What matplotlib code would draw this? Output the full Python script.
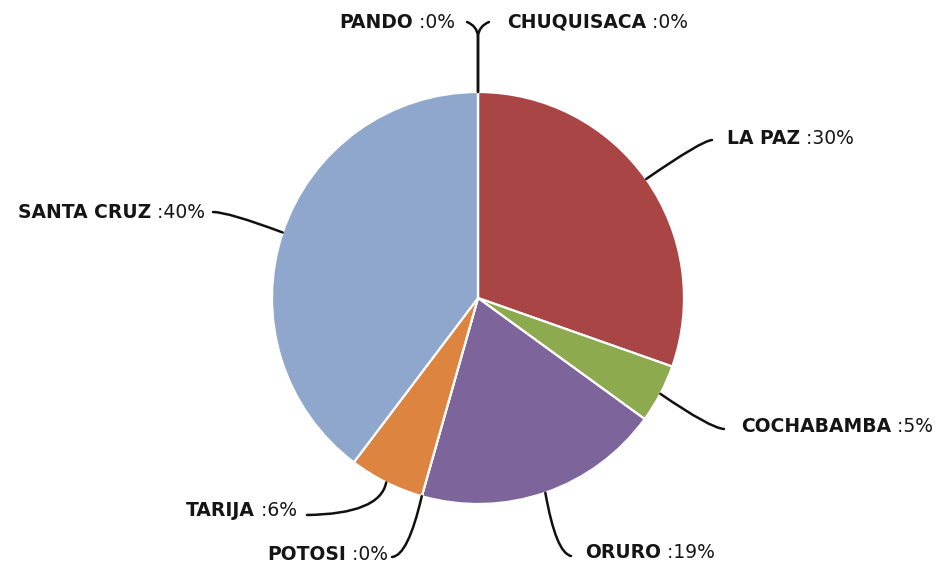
import numpy as np
import matplotlib
matplotlib.use("Agg")
import matplotlib.pyplot as plt
from matplotlib.path import Path
from matplotlib.patches import PathPatch
from matplotlib.offsetbox import TextArea, HPacker, AnnotationBbox

# ---- data ----
departments = ["CHUQUISACA", "LA PAZ", "COCHABAMBA", "ORURO", "POTOSI", "TARIJA", "SANTA CRUZ", "PANDO"]
shares = [0.0, 30.4, 4.6, 19.4, 0.0, 5.9, 39.7, 0.0]
colors = ["#4F81BD", "#A94544", "#8DAA4E", "#7D659B", "#4BACC6", "#DD8440", "#8FA7CD", "#C0504D"]

# ---- layout (pixel coords, y from top) ----
W, H = 938, 567
CX, CY, R = 478, 298, 206
# label: (text x, text y, align side, ctrl x, y, line end x, y)
label_layout = {
    "CHUQUISACA": (507, 22, "left", 479, 26, 489, 22),
    "LA PAZ": (727, 139, "left", 701, 141, 712, 140),
    "COCHABAMBA": (933, 427, "right", 710, 428, 724, 429),
    "ORURO": (585, 552, "left", 556, 553, 571, 556),
    "POTOSI": (388, 555, "right", 408, 556, 392, 557),
    "TARIJA": (297, 511, "right", 380, 514, 307, 515),
    "SANTA CRUZ": (205, 212, "right", 228, 212, 213, 212),
    "PANDO": (455, 22, "right", 477, 26, 467, 22),
}

fig = plt.figure(figsize=(W / 100, H / 100), dpi=100)
ax = fig.add_axes([0, 0, 1, 1])

def Y(y):
    return H - y

wedges, _ = ax.pie(shares, colors=colors, startangle=90, counterclock=False,
                   center=(CX, Y(CY)), radius=R, frame=True,
                   wedgeprops=dict(edgecolor="white", linewidth=1.6))
ax.set_xlim(0, W)
ax.set_ylim(0, H)
ax.set_aspect("equal")
ax.axis("off")

FONT = "DejaVu Sans"
FS = 13.5
for name, val, w in zip(departments, shares, wedges):
    tx, ty, side, ex, ey, lx, ly = label_layout[name]
    mid = np.deg2rad((w.theta1 + w.theta2) / 2)
    ax_ = CX + R * np.cos(mid)
    ay_ = Y(CY) + R * np.sin(mid)
    if name in ("PANDO", "CHUQUISACA"):
        stem_top = Y(36)
        verts = [(ax_, ay_), (ax_, stem_top), (ex, Y(ey)), (lx, Y(ly))]
        codes = [Path.MOVETO, Path.LINETO, Path.CURVE3, Path.CURVE3]
    else:
        verts = [(ax_, ay_), (ex, Y(ey)), (lx, Y(ly))]
        codes = [Path.MOVETO, Path.CURVE3, Path.CURVE3]
    ax.add_patch(PathPatch(Path(verts, codes), fill=False, lw=1.8, color="#111111",
                           capstyle="round", zorder=5))

    t1 = TextArea(name, textprops=dict(fontfamily=FONT, fontweight="bold", fontsize=FS, color="#151515"))
    t2 = TextArea(" :%d%%" % round(val), textprops=dict(fontfamily=FONT, fontsize=FS, color="#151515"))
    box = HPacker(children=[t1, t2], align="baseline", pad=0, sep=0)
    ab = AnnotationBbox(box, (tx, Y(ty)), xycoords="data", frameon=False, pad=0,
                        box_alignment=(0, 0.5) if side == "left" else (1, 0.5))
    ax.add_artist(ab)

fig.savefig("out.png", dpi=100, facecolor="white")
